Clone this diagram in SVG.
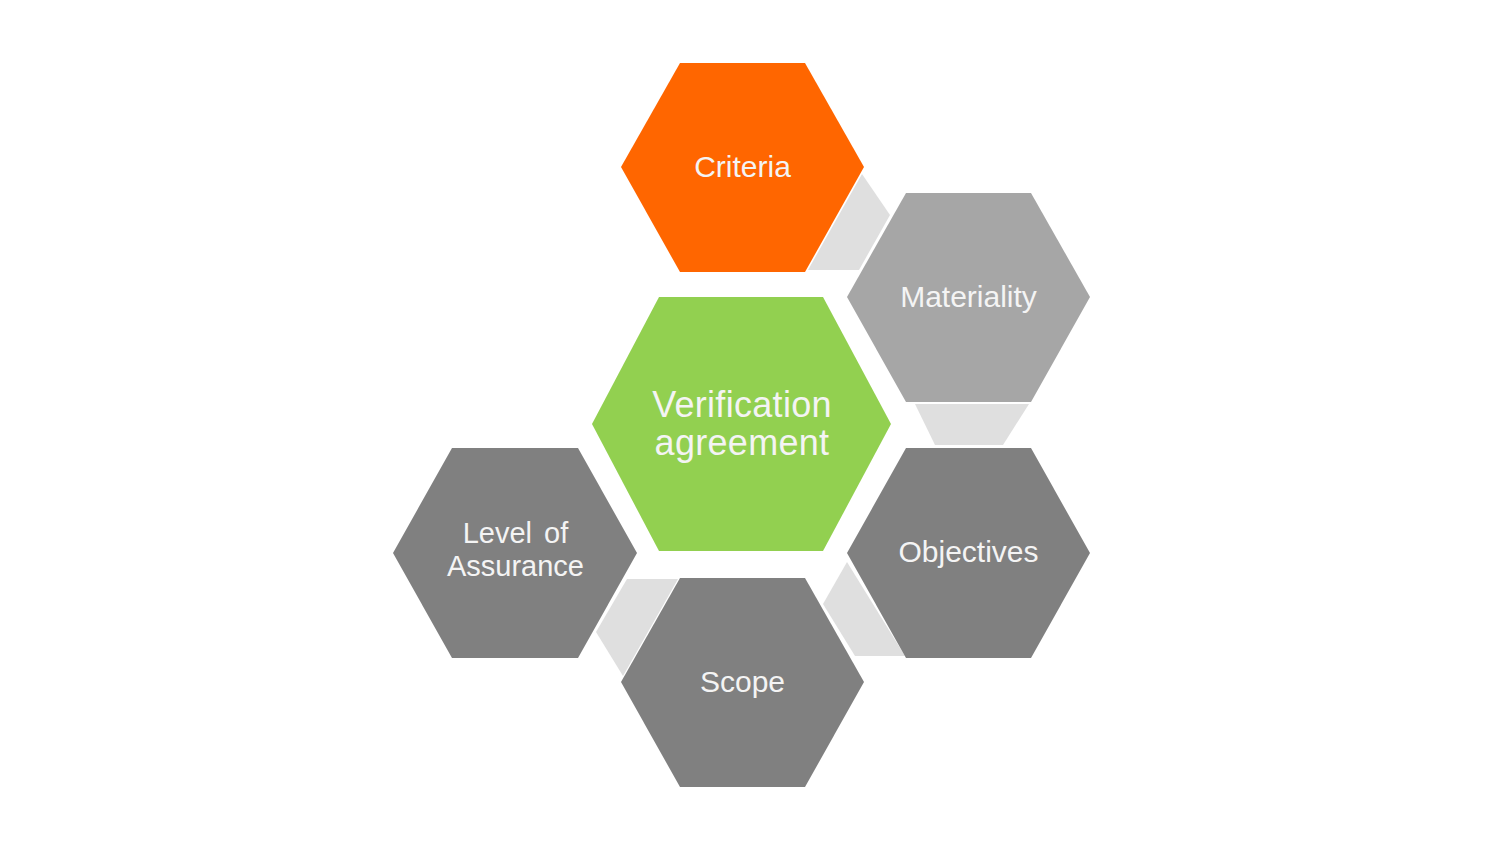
<svg xmlns="http://www.w3.org/2000/svg" width="1504" height="846" viewBox="0 0 1504 846">
<style>
.lbl{font-family:"Liberation Sans",Arial,sans-serif;font-size:30px;fill:#F4F4F4;text-anchor:middle}
.big{font-size:36px;letter-spacing:0.3px}
.two{font-size:29px}
.conn{fill:#DFDFDF}
.orange{fill:#FF6600}
.green{fill:#92D050}
.light{fill:#A6A6A6}
.dark{fill:#808080}
</style>
<rect width="1504" height="846" fill="#FFFFFF"/>
<g id="connectors">
<polygon class="conn" points="862,174 890,215 859,270 808,270"/>
<polygon class="conn" points="915,404 1029,404 1003,445 935,445"/>
<polygon class="conn" points="847,562 823,604 855,656 905,656"/>
<polygon class="conn" points="627,579 678,579 623,676 596,632"/>
</g>
<g id="criteria">
<polygon class="orange" points="621,167 680,63 805,63 864,167 805,272 680,272"/>
<text class="lbl" x="742.5" y="177">Criteria</text>
</g>
<g id="materiality">
<polygon class="light" points="847,297 906,193 1031,193 1090,297 1031,402 906,402"/>
<text class="lbl" x="968.5" y="307">Materiality</text>
</g>
<g id="verification">
<polygon class="green" points="592,424 659,297 823,297 891,424 823,551 659,551"/>
<text class="lbl big" x="742" y="417">Verification</text>
<text class="lbl big" x="742" y="455">agreement</text>
</g>
<g id="objectives">
<polygon class="dark" points="847,553 906,448 1031,448 1090,553 1031,658 906,658"/>
<text class="lbl" x="968.5" y="562">Objectives</text>
</g>
<g id="level">
<polygon class="dark" points="393,553 452,448 578,448 637,553 578,658 452,658"/>
<text class="lbl two" x="515.5" y="543" word-spacing="4">Level of</text>
<text class="lbl two" x="515.5" y="576">Assurance</text>
</g>
<g id="scope">
<polygon class="dark" points="621,682 680,578 805,578 864,682 805,787 680,787"/>
<text class="lbl" x="742.5" y="692">Scope</text>
</g>
</svg>
